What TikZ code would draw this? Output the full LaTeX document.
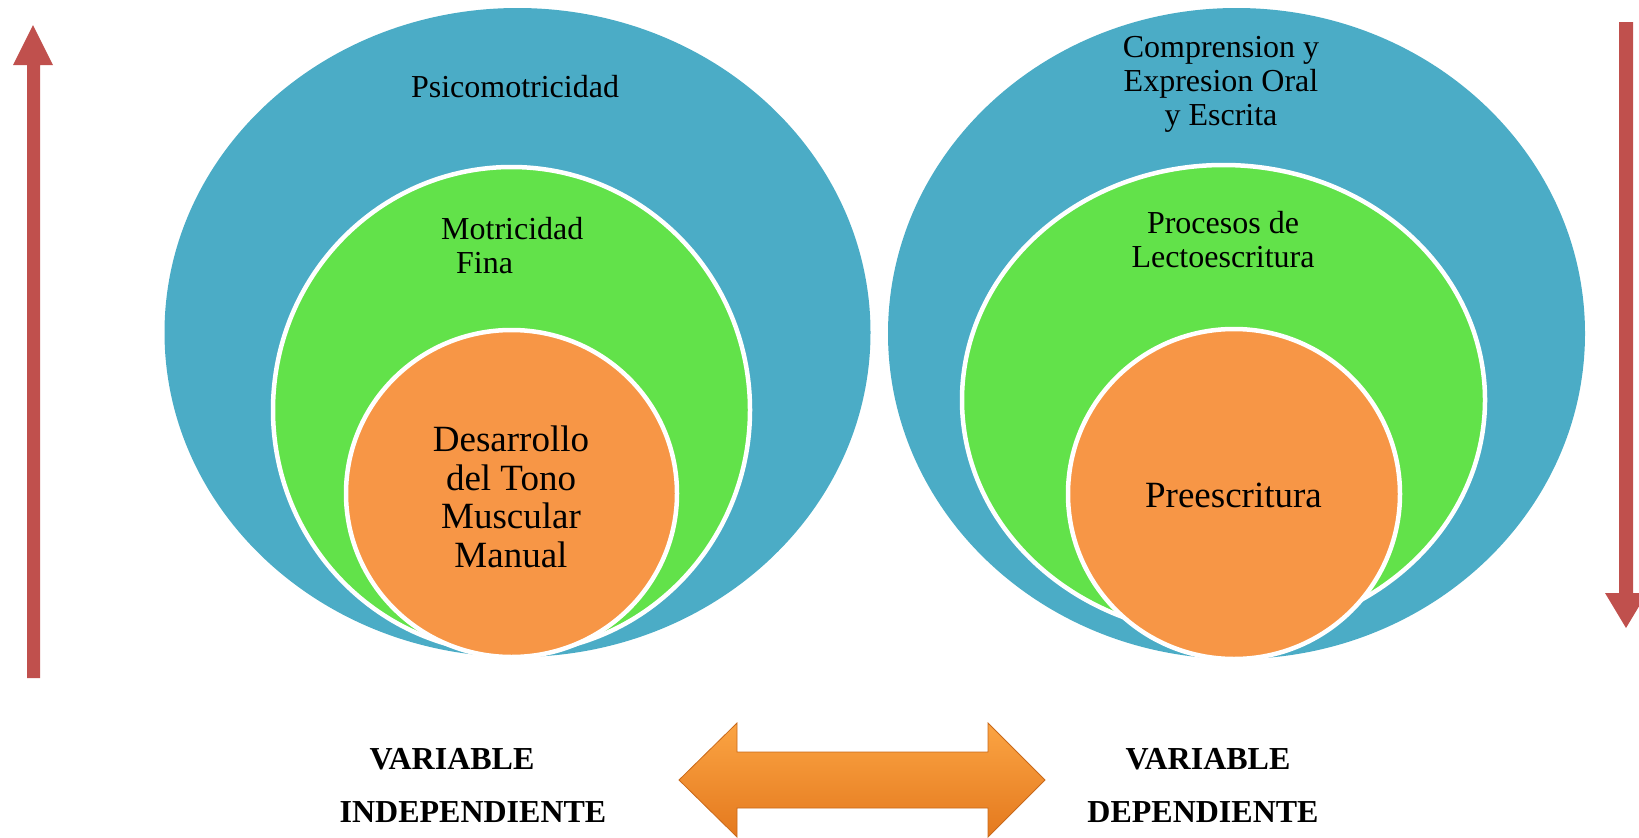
\documentclass[tikz,border=0pt]{standalone}
\usepackage{fontspec}
\setmainfont{Liberation Serif}
\definecolor{cblue}{HTML}{4BACC6}
\definecolor{cgreen}{HTML}{62E24A}
\definecolor{corange}{HTML}{F79646}
\definecolor{cred}{HTML}{C0504D}
\definecolor{arrtop}{HTML}{FBA443}
\definecolor{arrmid}{HTML}{F98F2C}
\definecolor{arrbot}{HTML}{E4791E}
\definecolor{arredge}{HTML}{C9691A}
\tikzset{
  bluefill/.style={fill=cblue},
  ringfill/.style={line width=4.5pt, draw=white},
  lbl/.style={font=\fontsize{32}{34}\selectfont, align=center, inner sep=0pt},
  biglbl/.style={font=\fontsize{37}{38.5}\selectfont, align=center, inner sep=0pt},
  varlbl/.style={font=\fontsize{32}{34}\selectfont\bfseries, inner sep=0pt},
  redarrow/.style={fill=cred},
}
\begin{document}
\begin{tikzpicture}[x=1pt, y=-1pt]
\useasboundingbox (0,0) rectangle (1639,838);
\clip (0,0) rectangle (1639,838);
% left group
\fill[bluefill] (517.5,332.5) ellipse [x radius=353, y radius=324.5];
\filldraw[cgreen, ringfill] (511.5,410) ellipse [x radius=238.5, y radius=243];
\filldraw[corange, ringfill] (511.5,493.5) ellipse [x radius=165.5, y radius=163.5];
% right group
\fill[bluefill] (1236.5,333.5) ellipse [x radius=348.5, y radius=325.5];
\filldraw[cgreen, ringfill] (1223.5,400) ellipse [x radius=261.5, y radius=235];
\filldraw[corange, ringfill] (1234,494) ellipse [x radius=166, y radius=165];
% texts in circles
\node[lbl] (psico) at (515,87) {Psicomotricidad};
\node[lbl, align=left, anchor=west] (motri) at (441,246) {Motricidad\\\hspace{15pt}Fina};
\node[biglbl] (desa) at (511,497) {Desarrollo\\del Tono\\Muscular\\Manual};
\node[lbl] (compr) at (1221,84) {Comprension y\\Expresion Oral\\y Escrita};
\node[lbl] (proc) at (1223,240) {Procesos de\\Lectoescritura};
\node[biglbl] (pree) at (1233.5,495.5) {Preescritura};
% red arrows
\fill[redarrow] (27,678) -- (27,65) -- (13,65) -- (33,25) -- (53,65) -- (40,65) -- (40,678) -- cycle;
\fill[redarrow] (1619,22) -- (1619,593) -- (1605,593) -- (1626,628) -- (1647,593) -- (1633,593) -- (1633,22) -- cycle;
% double arrow
\shade[top color=arrtop, middle color=arrmid, bottom color=arrbot, draw=arredge, line width=0.8pt]
  (679,780) -- (737,723) -- (737,752) -- (988,752) -- (988,723) -- (1045,780) -- (988,837) -- (988,808) -- (737,808) -- (737,837) -- cycle;
% variable labels
\node[varlbl] (vi1) at (452,759) {VARIABLE};
\node[varlbl] (vi2) at (473,812) {INDEPENDIENTE};
\node[varlbl] (vd1) at (1208,759) {VARIABLE};
\node[varlbl] (vd2) at (1203,812) {DEPENDIENTE};
\end{tikzpicture}
\end{document}
